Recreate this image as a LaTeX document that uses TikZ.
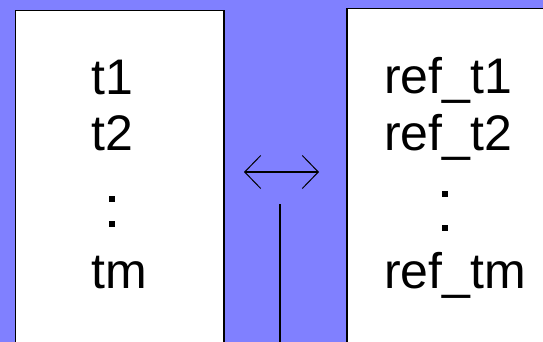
\documentclass[tikz,border=0pt]{standalone}
\usepackage{fontspec}
\setmainfont{Liberation Sans}
\usetikzlibrary{arrows.meta}
\definecolor{bgblue}{RGB}{128,128,255}
\tikzset{
  listbox/.style={draw=black, line width=1.5pt, fill=white, anchor=north west, inner sep=0pt},
  entry/.style={anchor=base west, inner sep=0pt, font=\fontsize{50}{60}\selectfont},
  vdot/.style={rectangle, fill=black, inner sep=0pt, minimum size=5.5pt},
}
\begin{document}
\begin{tikzpicture}[x=1pt, y=-1pt]
\clip (0,0) rectangle (543,342);
\useasboundingbox (0,0) rectangle (543,342);
\fill[bgblue] (0,0) rectangle (543,342);
% the two lists
\node[listbox, minimum width=208.5pt, minimum height=345pt] (tbox) at (14.5,10){};
\node[listbox, minimum width=220pt, minimum height=345pt] (refbox) at (346,8){};
\node[entry] (t1) at (91,95){t1};
\node[entry] (t2) at (91,150){t2};
\node[vdot] (tdot1) at (112,199){};
\node[vdot] (tdot2) at (112,224){};
\node[entry] (tm) at (91,288){tm};
\node[entry] (ref1) at (384,94){ref\_t1};
\node[entry] (ref2) at (384,150){ref\_t2};
\node[vdot] (refdot1) at (445,194){};
\node[vdot] (refdot2) at (445,228){};
\node[entry] (refm) at (384,288){ref\_tm};
% correspondence between them
\coordinate (al) at (244,172);
\coordinate (ar) at (319,172);
\coordinate (stemtop) at (280,204);
\coordinate (stembot) at (280,350);
\draw[line width=1.5pt, {Straight Barb[length=16pt, width=33pt, line width=1pt]}-{Straight Barb[length=16pt, width=33pt, line width=1pt]}](al) -- (ar);
\draw[line width=1.3pt](stemtop) -- (stembot);
\end{tikzpicture}
\end{document}
